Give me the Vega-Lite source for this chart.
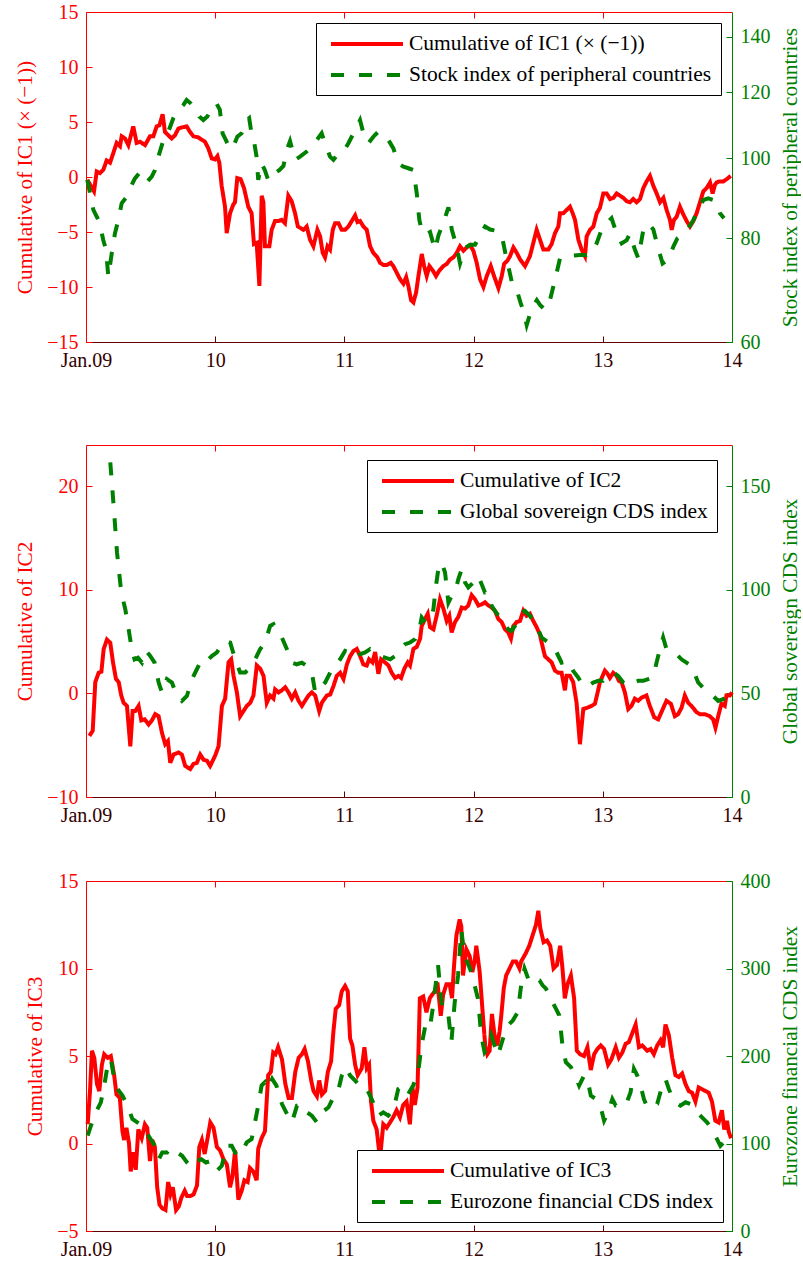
{
"$schema": "https://vega.github.io/schema/vega-lite/v6.json",
"padding": {"left": 14, "top": 2, "right": 0, "bottom": 0},
"config": {
  "font": "Liberation Serif",
  "view": {"stroke": null},
  "axis": {"grid": false, "labelFont": "Liberation Serif", "titleFont": "Liberation Serif", "labelFontSize": 20, "titleFontSize": 21.3, "titleFontWeight": "normal", "tickSize": -6, "labelPadding": 14, "titlePadding": 11, "domainWidth": 1, "tickWidth": 1, "labelFlush": false, "labelOverlap": false},
  "legend": {"title": null, "padding": 9, "strokeColor": "#000000", "fillColor": "#ffffff", "labelFont": "Liberation Serif", "labelFontSize": 21.5, "labelColor": "#000000", "symbolType": "M-3.6,0H3.6", "symbolSize": 400, "symbolStrokeWidth": 4, "rowPadding": 8, "labelOffset": 30, "labelLimit": 600, "symbolOffset": 30}
},
"datasets": {
"p1": [
{"s":"a","t":2009.010,"v":-0.25},{"s":"a","t":2009.062,"v":-1.3},{"s":"a","t":2009.083,"v":0.5},{"s":"a","t":2009.108,"v":0.35},{"s":"a","t":2009.134,"v":0.66},{"s":"a","t":2009.160,"v":1.5},{"s":"a","t":2009.186,"v":1.3},{"s":"a","t":2009.212,"v":2.2},{"s":"a","t":2009.237,"v":3.1},{"s":"a","t":2009.263,"v":2.8},{"s":"a","t":2009.276,"v":3.7},{"s":"a","t":2009.302,"v":3.5},{"s":"a","t":2009.328,"v":2.9},{"s":"a","t":2009.366,"v":4.6},{"s":"a","t":2009.392,"v":3.1},{"s":"a","t":2009.418,"v":3.2},{"s":"a","t":2009.457,"v":2.9},{"s":"a","t":2009.495,"v":3.7},{"s":"a","t":2009.521,"v":3.7},{"s":"a","t":2009.547,"v":4.6},{"s":"a","t":2009.568,"v":4.7},{"s":"a","t":2009.593,"v":5.7},{"s":"a","t":2009.611,"v":4.1},{"s":"a","t":2009.637,"v":3.8},{"s":"a","t":2009.663,"v":3.5},{"s":"a","t":2009.689,"v":3.8},{"s":"a","t":2009.715,"v":4.4},{"s":"a","t":2009.740,"v":4.5},{"s":"a","t":2009.779,"v":4.6},{"s":"a","t":2009.805,"v":4.1},{"s":"a","t":2009.831,"v":3.7},{"s":"a","t":2009.869,"v":3.6},{"s":"a","t":2009.895,"v":3.4},{"s":"a","t":2009.921,"v":3.2},{"s":"a","t":2009.947,"v":2.6},{"s":"a","t":2009.973,"v":1.7},{"s":"a","t":2009.998,"v":1.6},{"s":"a","t":2010.017,"v":1.9},{"s":"a","t":2010.032,"v":1.3},{"s":"a","t":2010.050,"v":-0.8},{"s":"a","t":2010.076,"v":-2.7},{"s":"a","t":2010.089,"v":-5.1},{"s":"a","t":2010.115,"v":-3.3},{"s":"a","t":2010.140,"v":-2.5},{"s":"a","t":2010.153,"v":-2.3},{"s":"a","t":2010.171,"v":-0.1},{"s":"a","t":2010.197,"v":-0.2},{"s":"a","t":2010.223,"v":-1.0},{"s":"a","t":2010.256,"v":-2.7},{"s":"a","t":2010.282,"v":-3.3},{"s":"a","t":2010.300,"v":-6.1},{"s":"a","t":2010.321,"v":-6.0},{"s":"a","t":2010.342,"v":-9.9},{"s":"a","t":2010.360,"v":-1.7},{"s":"a","t":2010.373,"v":-2.3},{"s":"a","t":2010.385,"v":-6.3},{"s":"a","t":2010.419,"v":-6.3},{"s":"a","t":2010.437,"v":-4.8},{"s":"a","t":2010.463,"v":-4.0},{"s":"a","t":2010.489,"v":-4.0},{"s":"a","t":2010.514,"v":-3.9},{"s":"a","t":2010.540,"v":-4.2},{"s":"a","t":2010.566,"v":-1.7},{"s":"a","t":2010.592,"v":-2.2},{"s":"a","t":2010.618,"v":-3.3},{"s":"a","t":2010.640,"v":-4.5},{"s":"a","t":2010.683,"v":-4.8},{"s":"a","t":2010.708,"v":-4.5},{"s":"a","t":2010.734,"v":-5.7},{"s":"a","t":2010.760,"v":-6.3},{"s":"a","t":2010.791,"v":-4.8},{"s":"a","t":2010.812,"v":-5.4},{"s":"a","t":2010.832,"v":-6.9},{"s":"a","t":2010.850,"v":-7.3},{"s":"a","t":2010.869,"v":-6.3},{"s":"a","t":2010.889,"v":-6.6},{"s":"a","t":2010.910,"v":-4.8},{"s":"a","t":2010.928,"v":-4.2},{"s":"a","t":2010.954,"v":-4.2},{"s":"a","t":2010.979,"v":-4.8},{"s":"a","t":2011.005,"v":-4.8},{"s":"a","t":2011.031,"v":-4.5},{"s":"a","t":2011.057,"v":-4.0},{"s":"a","t":2011.083,"v":-3.5},{"s":"a","t":2011.101,"v":-4.1},{"s":"a","t":2011.121,"v":-4.0},{"s":"a","t":2011.147,"v":-4.5},{"s":"a","t":2011.173,"v":-4.8},{"s":"a","t":2011.199,"v":-6.3},{"s":"a","t":2011.224,"v":-6.9},{"s":"a","t":2011.255,"v":-7.3},{"s":"a","t":2011.276,"v":-7.8},{"s":"a","t":2011.302,"v":-8.0},{"s":"a","t":2011.328,"v":-8.0},{"s":"a","t":2011.359,"v":-7.8},{"s":"a","t":2011.379,"v":-8.1},{"s":"a","t":2011.405,"v":-8.7},{"s":"a","t":2011.431,"v":-9.3},{"s":"a","t":2011.457,"v":-9.7},{"s":"a","t":2011.478,"v":-9.1},{"s":"a","t":2011.495,"v":-9.9},{"s":"a","t":2011.516,"v":-11.2},{"s":"a","t":2011.534,"v":-11.4},{"s":"a","t":2011.555,"v":-10.5},{"s":"a","t":2011.573,"v":-9.0},{"s":"a","t":2011.599,"v":-7.0},{"s":"a","t":2011.617,"v":-8.1},{"s":"a","t":2011.637,"v":-9.0},{"s":"a","t":2011.658,"v":-8.1},{"s":"a","t":2011.684,"v":-8.5},{"s":"a","t":2011.709,"v":-9.0},{"s":"a","t":2011.735,"v":-8.5},{"s":"a","t":2011.766,"v":-8.1},{"s":"a","t":2011.792,"v":-7.9},{"s":"a","t":2011.818,"v":-7.5},{"s":"a","t":2011.844,"v":-7.3},{"s":"a","t":2011.869,"v":-6.9},{"s":"a","t":2011.895,"v":-6.3},{"s":"a","t":2011.921,"v":-6.7},{"s":"a","t":2011.947,"v":-6.4},{"s":"a","t":2011.973,"v":-6.2},{"s":"a","t":2011.998,"v":-6.7},{"s":"a","t":2012.024,"v":-7.8},{"s":"a","t":2012.050,"v":-9.3},{"s":"a","t":2012.076,"v":-10.0},{"s":"a","t":2012.102,"v":-9.0},{"s":"a","t":2012.133,"v":-8.1},{"s":"a","t":2012.158,"v":-9.0},{"s":"a","t":2012.192,"v":-10.1},{"s":"a","t":2012.218,"v":-9.0},{"s":"a","t":2012.236,"v":-7.9},{"s":"a","t":2012.262,"v":-7.6},{"s":"a","t":2012.282,"v":-7.2},{"s":"a","t":2012.308,"v":-6.4},{"s":"a","t":2012.334,"v":-6.9},{"s":"a","t":2012.360,"v":-7.5},{"s":"a","t":2012.398,"v":-8.1},{"s":"a","t":2012.436,"v":-7.2},{"s":"a","t":2012.462,"v":-6.0},{"s":"a","t":2012.488,"v":-4.8},{"s":"a","t":2012.514,"v":-5.7},{"s":"a","t":2012.540,"v":-6.6},{"s":"a","t":2012.578,"v":-6.6},{"s":"a","t":2012.604,"v":-6.1},{"s":"a","t":2012.630,"v":-5.1},{"s":"a","t":2012.656,"v":-4.5},{"s":"a","t":2012.669,"v":-3.3},{"s":"a","t":2012.694,"v":-3.3},{"s":"a","t":2012.720,"v":-3.0},{"s":"a","t":2012.746,"v":-2.7},{"s":"a","t":2012.767,"v":-3.3},{"s":"a","t":2012.785,"v":-3.9},{"s":"a","t":2012.811,"v":-5.7},{"s":"a","t":2012.836,"v":-6.6},{"s":"a","t":2012.862,"v":-7.2},{"s":"a","t":2012.875,"v":-5.4},{"s":"a","t":2012.901,"v":-4.8},{"s":"a","t":2012.927,"v":-4.5},{"s":"a","t":2012.953,"v":-3.3},{"s":"a","t":2012.978,"v":-2.8},{"s":"a","t":2013.004,"v":-1.5},{"s":"a","t":2013.030,"v":-1.5},{"s":"a","t":2013.056,"v":-2.0},{"s":"a","t":2013.082,"v":-1.9},{"s":"a","t":2013.107,"v":-1.5},{"s":"a","t":2013.133,"v":-1.7},{"s":"a","t":2013.159,"v":-1.9},{"s":"a","t":2013.185,"v":-2.2},{"s":"a","t":2013.210,"v":-2.3},{"s":"a","t":2013.236,"v":-2.0},{"s":"a","t":2013.262,"v":-2.3},{"s":"a","t":2013.288,"v":-2.0},{"s":"a","t":2013.314,"v":-1.0},{"s":"a","t":2013.339,"v":-0.4},{"s":"a","t":2013.365,"v":0.1},{"s":"a","t":2013.391,"v":-0.8},{"s":"a","t":2013.417,"v":-1.5},{"s":"a","t":2013.443,"v":-2.3},{"s":"a","t":2013.469,"v":-1.9},{"s":"a","t":2013.494,"v":-3.0},{"s":"a","t":2013.520,"v":-3.9},{"s":"a","t":2013.533,"v":-4.8},{"s":"a","t":2013.551,"v":-3.9},{"s":"a","t":2013.572,"v":-3.6},{"s":"a","t":2013.597,"v":-2.7},{"s":"a","t":2013.623,"v":-3.4},{"s":"a","t":2013.649,"v":-4.0},{"s":"a","t":2013.675,"v":-4.5},{"s":"a","t":2013.701,"v":-4.0},{"s":"a","t":2013.726,"v":-3.3},{"s":"a","t":2013.752,"v":-2.3},{"s":"a","t":2013.778,"v":-1.3},{"s":"a","t":2013.804,"v":-1.0},{"s":"a","t":2013.830,"v":-0.5},{"s":"a","t":2013.850,"v":-1.5},{"s":"a","t":2013.868,"v":-0.7},{"s":"a","t":2013.881,"v":-0.5},{"s":"a","t":2013.902,"v":-0.4},{"s":"a","t":2013.933,"v":-0.4},{"s":"a","t":2013.959,"v":-0.2},{"s":"a","t":2013.990,"v":0.1},
{"s":"b","t":2009.010,"v":94.1},{"s":"b","t":2009.026,"v":91.5},{"s":"b","t":2009.057,"v":86.6},{"s":"b","t":2009.083,"v":85.0},{"s":"b","t":2009.103,"v":83.8},{"s":"b","t":2009.134,"v":79.6},{"s":"b","t":2009.155,"v":77.5},{"s":"b","t":2009.173,"v":71.9},{"s":"b","t":2009.199,"v":76.7},{"s":"b","t":2009.224,"v":81.1},{"s":"b","t":2009.250,"v":84.2},{"s":"b","t":2009.276,"v":88.2},{"s":"b","t":2009.315,"v":89.8},{"s":"b","t":2009.346,"v":92.3},{"s":"b","t":2009.379,"v":94.5},{"s":"b","t":2009.413,"v":95.9},{"s":"b","t":2009.444,"v":93.7},{"s":"b","t":2009.475,"v":93.7},{"s":"b","t":2009.509,"v":95.0},{"s":"b","t":2009.534,"v":96.7},{"s":"b","t":2009.568,"v":101.3},{"s":"b","t":2009.599,"v":105.1},{"s":"b","t":2009.637,"v":107.6},{"s":"b","t":2009.676,"v":111.7},{"s":"b","t":2009.715,"v":114.3},{"s":"b","t":2009.754,"v":115.9},{"s":"b","t":2009.779,"v":117.5},{"s":"b","t":2009.810,"v":116.4},{"s":"b","t":2009.844,"v":114.8},{"s":"b","t":2009.877,"v":112.2},{"s":"b","t":2009.908,"v":111.1},{"s":"b","t":2009.939,"v":112.2},{"s":"b","t":2009.972,"v":114.8},{"s":"b","t":2010.010,"v":116.4},{"s":"b","t":2010.036,"v":114.3},{"s":"b","t":2010.057,"v":107.1},{"s":"b","t":2010.083,"v":105.1},{"s":"b","t":2010.114,"v":102.5},{"s":"b","t":2010.140,"v":103.2},{"s":"b","t":2010.171,"v":106.1},{"s":"b","t":2010.204,"v":107.1},{"s":"b","t":2010.243,"v":111.1},{"s":"b","t":2010.263,"v":111.7},{"s":"b","t":2010.281,"v":107.1},{"s":"b","t":2010.299,"v":105.1},{"s":"b","t":2010.320,"v":100.4},{"s":"b","t":2010.333,"v":94.1},{"s":"b","t":2010.359,"v":98.5},{"s":"b","t":2010.384,"v":96.7},{"s":"b","t":2010.410,"v":94.1},{"s":"b","t":2010.436,"v":94.1},{"s":"b","t":2010.462,"v":95.9},{"s":"b","t":2010.496,"v":96.7},{"s":"b","t":2010.528,"v":97.8},{"s":"b","t":2010.554,"v":102.3},{"s":"b","t":2010.579,"v":104.8},{"s":"b","t":2010.618,"v":99.5},{"s":"b","t":2010.657,"v":100.4},{"s":"b","t":2010.708,"v":101.8},{"s":"b","t":2010.747,"v":103.2},{"s":"b","t":2010.786,"v":105.1},{"s":"b","t":2010.824,"v":107.1},{"s":"b","t":2010.850,"v":104.2},{"s":"b","t":2010.889,"v":100.4},{"s":"b","t":2010.915,"v":99.5},{"s":"b","t":2010.953,"v":101.3},{"s":"b","t":2010.992,"v":101.8},{"s":"b","t":2011.031,"v":104.2},{"s":"b","t":2011.070,"v":107.1},{"s":"b","t":2011.121,"v":111.1},{"s":"b","t":2011.147,"v":107.1},{"s":"b","t":2011.186,"v":104.2},{"s":"b","t":2011.224,"v":106.1},{"s":"b","t":2011.263,"v":107.6},{"s":"b","t":2011.302,"v":106.1},{"s":"b","t":2011.341,"v":105.1},{"s":"b","t":2011.379,"v":102.7},{"s":"b","t":2011.418,"v":98.5},{"s":"b","t":2011.457,"v":97.6},{"s":"b","t":2011.495,"v":97.2},{"s":"b","t":2011.534,"v":96.7},{"s":"b","t":2011.560,"v":90.7},{"s":"b","t":2011.580,"v":84.2},{"s":"b","t":2011.598,"v":81.9},{"s":"b","t":2011.624,"v":80.7},{"s":"b","t":2011.663,"v":81.4},{"s":"b","t":2011.702,"v":77.5},{"s":"b","t":2011.728,"v":80.7},{"s":"b","t":2011.766,"v":83.5},{"s":"b","t":2011.805,"v":87.2},{"s":"b","t":2011.831,"v":82.0},{"s":"b","t":2011.869,"v":78.2},{"s":"b","t":2011.895,"v":74.6},{"s":"b","t":2011.934,"v":77.9},{"s":"b","t":2011.973,"v":78.6},{"s":"b","t":2012.011,"v":78.6},{"s":"b","t":2012.050,"v":80.7},{"s":"b","t":2012.089,"v":82.7},{"s":"b","t":2012.127,"v":82.0},{"s":"b","t":2012.179,"v":81.7},{"s":"b","t":2012.218,"v":80.7},{"s":"b","t":2012.251,"v":76.1},{"s":"b","t":2012.295,"v":71.0},{"s":"b","t":2012.334,"v":69.3},{"s":"b","t":2012.365,"v":66.8},{"s":"b","t":2012.391,"v":65.0},{"s":"b","t":2012.411,"v":62.9},{"s":"b","t":2012.450,"v":65.9},{"s":"b","t":2012.489,"v":67.4},{"s":"b","t":2012.514,"v":66.5},{"s":"b","t":2012.553,"v":65.6},{"s":"b","t":2012.591,"v":67.4},{"s":"b","t":2012.630,"v":71.3},{"s":"b","t":2012.669,"v":75.7},{"s":"b","t":2012.720,"v":75.7},{"s":"b","t":2012.772,"v":76.3},{"s":"b","t":2012.823,"v":76.4},{"s":"b","t":2012.875,"v":76.4},{"s":"b","t":2012.914,"v":76.7},{"s":"b","t":2012.952,"v":78.9},{"s":"b","t":2012.991,"v":82.0},{"s":"b","t":2013.030,"v":83.4},{"s":"b","t":2013.068,"v":84.6},{"s":"b","t":2013.107,"v":81.1},{"s":"b","t":2013.146,"v":78.9},{"s":"b","t":2013.185,"v":79.6},{"s":"b","t":2013.210,"v":81.1},{"s":"b","t":2013.249,"v":77.5},{"s":"b","t":2013.275,"v":75.7},{"s":"b","t":2013.314,"v":82.0},{"s":"b","t":2013.352,"v":83.4},{"s":"b","t":2013.391,"v":82.0},{"s":"b","t":2013.422,"v":78.5},{"s":"b","t":2013.463,"v":74.6},{"s":"b","t":2013.507,"v":75.4},{"s":"b","t":2013.546,"v":78.2},{"s":"b","t":2013.577,"v":80.0},{"s":"b","t":2013.623,"v":81.1},{"s":"b","t":2013.662,"v":82.3},{"s":"b","t":2013.701,"v":84.2},{"s":"b","t":2013.739,"v":86.6},{"s":"b","t":2013.778,"v":89.0},{"s":"b","t":2013.817,"v":89.4},{"s":"b","t":2013.855,"v":89.0},{"s":"b","t":2013.881,"v":88.2},{"s":"b","t":2013.907,"v":85.8},{"s":"b","t":2013.938,"v":84.6}
],
"p2": [
{"s":"a","t":2009.026,"v":-4.1},{"s":"a","t":2009.052,"v":-3.6},{"s":"a","t":2009.072,"v":1.1},{"s":"a","t":2009.098,"v":2.0},{"s":"a","t":2009.119,"v":2.1},{"s":"a","t":2009.137,"v":4.3},{"s":"a","t":2009.162,"v":5.2},{"s":"a","t":2009.188,"v":4.9},{"s":"a","t":2009.209,"v":3.0},{"s":"a","t":2009.232,"v":1.4},{"s":"a","t":2009.253,"v":1.1},{"s":"a","t":2009.273,"v":-0.2},{"s":"a","t":2009.291,"v":-0.9},{"s":"a","t":2009.317,"v":-1.2},{"s":"a","t":2009.343,"v":-5.1},{"s":"a","t":2009.361,"v":-1.7},{"s":"a","t":2009.381,"v":-1.7},{"s":"a","t":2009.407,"v":-1.2},{"s":"a","t":2009.428,"v":-2.6},{"s":"a","t":2009.454,"v":-2.5},{"s":"a","t":2009.485,"v":-3.0},{"s":"a","t":2009.510,"v":-2.6},{"s":"a","t":2009.536,"v":-2.0},{"s":"a","t":2009.562,"v":-2.2},{"s":"a","t":2009.588,"v":-3.8},{"s":"a","t":2009.613,"v":-4.9},{"s":"a","t":2009.634,"v":-4.6},{"s":"a","t":2009.652,"v":-6.7},{"s":"a","t":2009.678,"v":-5.9},{"s":"a","t":2009.716,"v":-5.7},{"s":"a","t":2009.742,"v":-5.9},{"s":"a","t":2009.768,"v":-7.0},{"s":"a","t":2009.807,"v":-7.3},{"s":"a","t":2009.832,"v":-6.8},{"s":"a","t":2009.858,"v":-6.7},{"s":"a","t":2009.884,"v":-5.9},{"s":"a","t":2009.910,"v":-6.4},{"s":"a","t":2009.936,"v":-6.5},{"s":"a","t":2009.961,"v":-7.0},{"s":"a","t":2010.000,"v":-6.0},{"s":"a","t":2010.026,"v":-5.1},{"s":"a","t":2010.052,"v":-1.2},{"s":"a","t":2010.077,"v":-0.5},{"s":"a","t":2010.103,"v":3.0},{"s":"a","t":2010.124,"v":3.3},{"s":"a","t":2010.142,"v":1.7},{"s":"a","t":2010.168,"v":0.1},{"s":"a","t":2010.193,"v":-2.2},{"s":"a","t":2010.219,"v":-1.7},{"s":"a","t":2010.245,"v":-1.2},{"s":"a","t":2010.271,"v":-0.9},{"s":"a","t":2010.296,"v":-0.2},{"s":"a","t":2010.322,"v":2.7},{"s":"a","t":2010.348,"v":2.4},{"s":"a","t":2010.374,"v":1.7},{"s":"a","t":2010.399,"v":-0.9},{"s":"a","t":2010.425,"v":-0.2},{"s":"a","t":2010.451,"v":-0.5},{"s":"a","t":2010.464,"v":0.4},{"s":"a","t":2010.490,"v":0.1},{"s":"a","t":2010.515,"v":0.3},{"s":"a","t":2010.542,"v":0.6},{"s":"a","t":2010.568,"v":0.1},{"s":"a","t":2010.593,"v":-0.5},{"s":"a","t":2010.619,"v":0.1},{"s":"a","t":2010.645,"v":-0.7},{"s":"a","t":2010.671,"v":-1.2},{"s":"a","t":2010.696,"v":-0.7},{"s":"a","t":2010.722,"v":-0.2},{"s":"a","t":2010.748,"v":0.1},{"s":"a","t":2010.774,"v":-0.2},{"s":"a","t":2010.805,"v":-1.7},{"s":"a","t":2010.825,"v":-0.9},{"s":"a","t":2010.864,"v":-0.2},{"s":"a","t":2010.890,"v":-0.1},{"s":"a","t":2010.915,"v":0.7},{"s":"a","t":2010.941,"v":1.7},{"s":"a","t":2010.967,"v":2.0},{"s":"a","t":2010.993,"v":1.4},{"s":"a","t":2011.019,"v":2.8},{"s":"a","t":2011.044,"v":3.6},{"s":"a","t":2011.070,"v":4.1},{"s":"a","t":2011.096,"v":4.3},{"s":"a","t":2011.122,"v":3.6},{"s":"a","t":2011.147,"v":2.8},{"s":"a","t":2011.173,"v":2.7},{"s":"a","t":2011.191,"v":3.3},{"s":"a","t":2011.217,"v":3.0},{"s":"a","t":2011.238,"v":4.0},{"s":"a","t":2011.263,"v":1.9},{"s":"a","t":2011.284,"v":3.3},{"s":"a","t":2011.315,"v":3.0},{"s":"a","t":2011.341,"v":2.7},{"s":"a","t":2011.366,"v":2.0},{"s":"a","t":2011.392,"v":1.5},{"s":"a","t":2011.418,"v":1.7},{"s":"a","t":2011.439,"v":1.5},{"s":"a","t":2011.464,"v":2.4},{"s":"a","t":2011.490,"v":3.0},{"s":"a","t":2011.508,"v":2.7},{"s":"a","t":2011.534,"v":4.3},{"s":"a","t":2011.560,"v":4.5},{"s":"a","t":2011.586,"v":5.3},{"s":"a","t":2011.598,"v":6.5},{"s":"a","t":2011.624,"v":7.2},{"s":"a","t":2011.645,"v":7.7},{"s":"a","t":2011.663,"v":6.4},{"s":"a","t":2011.689,"v":6.2},{"s":"a","t":2011.714,"v":7.5},{"s":"a","t":2011.740,"v":9.1},{"s":"a","t":2011.766,"v":8.2},{"s":"a","t":2011.792,"v":7.0},{"s":"a","t":2011.812,"v":7.5},{"s":"a","t":2011.830,"v":5.9},{"s":"a","t":2011.856,"v":6.9},{"s":"a","t":2011.882,"v":7.4},{"s":"a","t":2011.908,"v":8.3},{"s":"a","t":2011.933,"v":8.2},{"s":"a","t":2011.959,"v":8.5},{"s":"a","t":2011.985,"v":9.5},{"s":"a","t":2012.011,"v":9.1},{"s":"a","t":2012.037,"v":8.5},{"s":"a","t":2012.062,"v":8.6},{"s":"a","t":2012.088,"v":8.8},{"s":"a","t":2012.114,"v":8.5},{"s":"a","t":2012.140,"v":8.3},{"s":"a","t":2012.165,"v":8.0},{"s":"a","t":2012.191,"v":7.2},{"s":"a","t":2012.217,"v":6.9},{"s":"a","t":2012.243,"v":6.2},{"s":"a","t":2012.268,"v":5.9},{"s":"a","t":2012.289,"v":5.3},{"s":"a","t":2012.307,"v":6.5},{"s":"a","t":2012.333,"v":6.9},{"s":"a","t":2012.359,"v":7.0},{"s":"a","t":2012.385,"v":8.0},{"s":"a","t":2012.410,"v":7.5},{"s":"a","t":2012.436,"v":7.7},{"s":"a","t":2012.462,"v":7.0},{"s":"a","t":2012.488,"v":6.4},{"s":"a","t":2012.513,"v":5.7},{"s":"a","t":2012.527,"v":4.9},{"s":"a","t":2012.552,"v":3.6},{"s":"a","t":2012.578,"v":3.3},{"s":"a","t":2012.604,"v":3.0},{"s":"a","t":2012.630,"v":2.2},{"s":"a","t":2012.655,"v":2.0},{"s":"a","t":2012.681,"v":2.0},{"s":"a","t":2012.707,"v":0.3},{"s":"a","t":2012.720,"v":1.7},{"s":"a","t":2012.746,"v":1.7},{"s":"a","t":2012.771,"v":1.1},{"s":"a","t":2012.797,"v":-0.9},{"s":"a","t":2012.823,"v":-4.9},{"s":"a","t":2012.849,"v":-1.5},{"s":"a","t":2012.875,"v":-1.4},{"s":"a","t":2012.913,"v":-1.2},{"s":"a","t":2012.939,"v":-1.0},{"s":"a","t":2012.960,"v":0.1},{"s":"a","t":2012.978,"v":1.1},{"s":"a","t":2013.016,"v":2.2},{"s":"a","t":2013.037,"v":1.9},{"s":"a","t":2013.055,"v":1.5},{"s":"a","t":2013.081,"v":2.0},{"s":"a","t":2013.107,"v":1.7},{"s":"a","t":2013.125,"v":1.2},{"s":"a","t":2013.145,"v":1.1},{"s":"a","t":2013.171,"v":0.1},{"s":"a","t":2013.197,"v":-1.5},{"s":"a","t":2013.222,"v":-1.2},{"s":"a","t":2013.248,"v":-0.5},{"s":"a","t":2013.274,"v":-0.7},{"s":"a","t":2013.300,"v":-0.4},{"s":"a","t":2013.338,"v":-0.2},{"s":"a","t":2013.364,"v":-1.2},{"s":"a","t":2013.398,"v":-2.3},{"s":"a","t":2013.429,"v":-2.5},{"s":"a","t":2013.454,"v":-1.8},{"s":"a","t":2013.493,"v":-0.7},{"s":"a","t":2013.527,"v":-1.0},{"s":"a","t":2013.558,"v":-2.2},{"s":"a","t":2013.583,"v":-2.0},{"s":"a","t":2013.609,"v":-1.4},{"s":"a","t":2013.635,"v":-0.2},{"s":"a","t":2013.661,"v":-0.9},{"s":"a","t":2013.686,"v":-1.2},{"s":"a","t":2013.725,"v":-1.8},{"s":"a","t":2013.751,"v":-2.0},{"s":"a","t":2013.790,"v":-2.0},{"s":"a","t":2013.828,"v":-2.2},{"s":"a","t":2013.854,"v":-2.5},{"s":"a","t":2013.872,"v":-3.3},{"s":"a","t":2013.893,"v":-2.2},{"s":"a","t":2013.918,"v":-1.0},{"s":"a","t":2013.944,"v":-1.2},{"s":"a","t":2013.957,"v":-0.2},{"s":"a","t":2013.983,"v":-0.2},{"s":"a","t":2014.000,"v":0.1},
{"s":"b","t":2009.188,"v":161.6},{"s":"b","t":2009.214,"v":140.6},{"s":"b","t":2009.240,"v":118.1},{"s":"b","t":2009.273,"v":98.8},{"s":"b","t":2009.304,"v":90.7},{"s":"b","t":2009.330,"v":81.0},{"s":"b","t":2009.356,"v":70.6},{"s":"b","t":2009.376,"v":66.5},{"s":"b","t":2009.402,"v":67.3},{"s":"b","t":2009.433,"v":64.9},{"s":"b","t":2009.464,"v":70.6},{"s":"b","t":2009.497,"v":68.1},{"s":"b","t":2009.531,"v":64.9},{"s":"b","t":2009.562,"v":55.3},{"s":"b","t":2009.588,"v":50.4},{"s":"b","t":2009.626,"v":56.9},{"s":"b","t":2009.665,"v":55.3},{"s":"b","t":2009.704,"v":48.8},{"s":"b","t":2009.742,"v":46.4},{"s":"b","t":2009.781,"v":48.8},{"s":"b","t":2009.820,"v":56.9},{"s":"b","t":2009.858,"v":61.7},{"s":"b","t":2009.897,"v":66.5},{"s":"b","t":2009.936,"v":65.7},{"s":"b","t":2009.974,"v":68.1},{"s":"b","t":2010.013,"v":69.8},{"s":"b","t":2010.052,"v":73.8},{"s":"b","t":2010.082,"v":75.4},{"s":"b","t":2010.116,"v":74.6},{"s":"b","t":2010.155,"v":66.5},{"s":"b","t":2010.193,"v":60.1},{"s":"b","t":2010.232,"v":60.1},{"s":"b","t":2010.271,"v":62.5},{"s":"b","t":2010.309,"v":66.5},{"s":"b","t":2010.348,"v":71.4},{"s":"b","t":2010.387,"v":74.6},{"s":"b","t":2010.425,"v":82.6},{"s":"b","t":2010.451,"v":83.5},{"s":"b","t":2010.490,"v":79.4},{"s":"b","t":2010.516,"v":77.0},{"s":"b","t":2010.555,"v":71.4},{"s":"b","t":2010.593,"v":64.9},{"s":"b","t":2010.632,"v":64.1},{"s":"b","t":2010.671,"v":64.9},{"s":"b","t":2010.709,"v":63.3},{"s":"b","t":2010.748,"v":60.1},{"s":"b","t":2010.774,"v":50.4},{"s":"b","t":2010.799,"v":52.0},{"s":"b","t":2010.851,"v":55.3},{"s":"b","t":2010.890,"v":60.1},{"s":"b","t":2010.928,"v":63.3},{"s":"b","t":2010.967,"v":66.5},{"s":"b","t":2011.006,"v":70.6},{"s":"b","t":2011.044,"v":69.8},{"s":"b","t":2011.083,"v":71.4},{"s":"b","t":2011.122,"v":69.0},{"s":"b","t":2011.160,"v":69.8},{"s":"b","t":2011.199,"v":71.4},{"s":"b","t":2011.238,"v":69.8},{"s":"b","t":2011.276,"v":68.1},{"s":"b","t":2011.315,"v":67.3},{"s":"b","t":2011.354,"v":66.5},{"s":"b","t":2011.392,"v":68.1},{"s":"b","t":2011.431,"v":71.4},{"s":"b","t":2011.470,"v":73.8},{"s":"b","t":2011.508,"v":74.6},{"s":"b","t":2011.547,"v":76.2},{"s":"b","t":2011.578,"v":80.2},{"s":"b","t":2011.598,"v":86.7},{"s":"b","t":2011.629,"v":84.3},{"s":"b","t":2011.663,"v":85.1},{"s":"b","t":2011.689,"v":90.7},{"s":"b","t":2011.707,"v":101.2},{"s":"b","t":2011.727,"v":110.0},{"s":"b","t":2011.753,"v":113.3},{"s":"b","t":2011.779,"v":108.4},{"s":"b","t":2011.805,"v":93.9},{"s":"b","t":2011.830,"v":97.1},{"s":"b","t":2011.856,"v":98.8},{"s":"b","t":2011.882,"v":105.2},{"s":"b","t":2011.908,"v":110.0},{"s":"b","t":2011.934,"v":103.6},{"s":"b","t":2011.959,"v":101.2},{"s":"b","t":2011.998,"v":103.6},{"s":"b","t":2012.037,"v":106.8},{"s":"b","t":2012.062,"v":102.8},{"s":"b","t":2012.088,"v":98.8},{"s":"b","t":2012.114,"v":98.8},{"s":"b","t":2012.140,"v":92.3},{"s":"b","t":2012.165,"v":89.9},{"s":"b","t":2012.204,"v":86.7},{"s":"b","t":2012.230,"v":84.3},{"s":"b","t":2012.268,"v":81.0},{"s":"b","t":2012.294,"v":80.2},{"s":"b","t":2012.320,"v":82.6},{"s":"b","t":2012.346,"v":85.9},{"s":"b","t":2012.372,"v":89.1},{"s":"b","t":2012.397,"v":89.9},{"s":"b","t":2012.436,"v":87.5},{"s":"b","t":2012.488,"v":82.5},{"s":"b","t":2012.527,"v":77.0},{"s":"b","t":2012.578,"v":74.6},{"s":"b","t":2012.630,"v":71.4},{"s":"b","t":2012.681,"v":64.9},{"s":"b","t":2012.733,"v":65.7},{"s":"b","t":2012.771,"v":60.9},{"s":"b","t":2012.810,"v":57.7},{"s":"b","t":2012.849,"v":53.6},{"s":"b","t":2012.887,"v":53.6},{"s":"b","t":2012.926,"v":55.3},{"s":"b","t":2012.965,"v":56.1},{"s":"b","t":2013.003,"v":56.1},{"s":"b","t":2013.042,"v":58.5},{"s":"b","t":2013.081,"v":60.1},{"s":"b","t":2013.119,"v":58.5},{"s":"b","t":2013.158,"v":55.3},{"s":"b","t":2013.197,"v":53.6},{"s":"b","t":2013.235,"v":55.3},{"s":"b","t":2013.274,"v":56.1},{"s":"b","t":2013.313,"v":56.1},{"s":"b","t":2013.351,"v":56.9},{"s":"b","t":2013.390,"v":57.7},{"s":"b","t":2013.416,"v":64.9},{"s":"b","t":2013.442,"v":71.4},{"s":"b","t":2013.467,"v":77.0},{"s":"b","t":2013.493,"v":71.4},{"s":"b","t":2013.532,"v":69.8},{"s":"b","t":2013.570,"v":69.0},{"s":"b","t":2013.609,"v":66.5},{"s":"b","t":2013.648,"v":64.9},{"s":"b","t":2013.686,"v":63.3},{"s":"b","t":2013.712,"v":59.3},{"s":"b","t":2013.738,"v":55.3},{"s":"b","t":2013.777,"v":52.8},{"s":"b","t":2013.815,"v":51.2},{"s":"b","t":2013.854,"v":48.8},{"s":"b","t":2013.893,"v":46.4},{"s":"b","t":2013.931,"v":47.2},{"s":"b","t":2013.970,"v":48.8},{"s":"b","t":2014.000,"v":49.6}
],
"p3": [
{"s":"a","t":2009.013,"v":1.1},{"s":"a","t":2009.031,"v":3.0},{"s":"a","t":2009.046,"v":5.3},{"s":"a","t":2009.064,"v":4.9},{"s":"a","t":2009.085,"v":3.4},{"s":"a","t":2009.103,"v":3.0},{"s":"a","t":2009.123,"v":4.5},{"s":"a","t":2009.141,"v":5.1},{"s":"a","t":2009.167,"v":4.9},{"s":"a","t":2009.192,"v":5.0},{"s":"a","t":2009.218,"v":3.9},{"s":"a","t":2009.236,"v":2.8},{"s":"a","t":2009.262,"v":2.6},{"s":"a","t":2009.282,"v":0.7},{"s":"a","t":2009.295,"v":0.2},{"s":"a","t":2009.313,"v":0.9},{"s":"a","t":2009.333,"v":0.0},{"s":"a","t":2009.346,"v":-1.6},{"s":"a","t":2009.367,"v":-0.5},{"s":"a","t":2009.385,"v":-1.5},{"s":"a","t":2009.405,"v":0.8},{"s":"a","t":2009.431,"v":0.3},{"s":"a","t":2009.456,"v":1.1},{"s":"a","t":2009.474,"v":0.9},{"s":"a","t":2009.495,"v":-1.0},{"s":"a","t":2009.513,"v":0.2},{"s":"a","t":2009.533,"v":-0.2},{"s":"a","t":2009.551,"v":-2.5},{"s":"a","t":2009.569,"v":-3.5},{"s":"a","t":2009.590,"v":-3.7},{"s":"a","t":2009.615,"v":-3.8},{"s":"a","t":2009.636,"v":-2.2},{"s":"a","t":2009.654,"v":-2.9},{"s":"a","t":2009.672,"v":-2.5},{"s":"a","t":2009.697,"v":-3.8},{"s":"a","t":2009.718,"v":-3.6},{"s":"a","t":2009.738,"v":-3.1},{"s":"a","t":2009.764,"v":-2.7},{"s":"a","t":2009.782,"v":-3.0},{"s":"a","t":2009.808,"v":-3.0},{"s":"a","t":2009.833,"v":-2.9},{"s":"a","t":2009.859,"v":-2.4},{"s":"a","t":2009.877,"v":-0.2},{"s":"a","t":2009.897,"v":0.2},{"s":"a","t":2009.918,"v":-0.6},{"s":"a","t":2009.936,"v":0.1},{"s":"a","t":2009.962,"v":1.2},{"s":"a","t":2009.987,"v":0.9},{"s":"a","t":2010.013,"v":-0.2},{"s":"a","t":2010.038,"v":-0.4},{"s":"a","t":2010.064,"v":-0.9},{"s":"a","t":2010.090,"v":-1.2},{"s":"a","t":2010.115,"v":-2.5},{"s":"a","t":2010.133,"v":-1.9},{"s":"a","t":2010.154,"v":-0.4},{"s":"a","t":2010.179,"v":-3.2},{"s":"a","t":2010.205,"v":-2.7},{"s":"a","t":2010.226,"v":-2.1},{"s":"a","t":2010.251,"v":-2.2},{"s":"a","t":2010.269,"v":-1.4},{"s":"a","t":2010.295,"v":-1.6},{"s":"a","t":2010.321,"v":-2.1},{"s":"a","t":2010.333,"v":-0.3},{"s":"a","t":2010.359,"v":0.3},{"s":"a","t":2010.385,"v":0.7},{"s":"a","t":2010.410,"v":3.9},{"s":"a","t":2010.431,"v":4.1},{"s":"a","t":2010.449,"v":5.2},{"s":"a","t":2010.467,"v":5.1},{"s":"a","t":2010.487,"v":5.5},{"s":"a","t":2010.517,"v":4.8},{"s":"a","t":2010.543,"v":3.4},{"s":"a","t":2010.568,"v":2.6},{"s":"a","t":2010.594,"v":2.6},{"s":"a","t":2010.620,"v":4.1},{"s":"a","t":2010.646,"v":4.9},{"s":"a","t":2010.671,"v":5.1},{"s":"a","t":2010.692,"v":5.4},{"s":"a","t":2010.718,"v":4.7},{"s":"a","t":2010.743,"v":3.6},{"s":"a","t":2010.761,"v":3.0},{"s":"a","t":2010.787,"v":2.7},{"s":"a","t":2010.805,"v":3.6},{"s":"a","t":2010.826,"v":2.8},{"s":"a","t":2010.851,"v":3.0},{"s":"a","t":2010.872,"v":4.1},{"s":"a","t":2010.897,"v":4.7},{"s":"a","t":2010.915,"v":6.4},{"s":"a","t":2010.933,"v":7.7},{"s":"a","t":2010.959,"v":7.9},{"s":"a","t":2010.980,"v":8.7},{"s":"a","t":2011.005,"v":9.0},{"s":"a","t":2011.026,"v":8.7},{"s":"a","t":2011.044,"v":6.0},{"s":"a","t":2011.062,"v":5.6},{"s":"a","t":2011.083,"v":4.5},{"s":"a","t":2011.103,"v":3.9},{"s":"a","t":2011.134,"v":4.3},{"s":"a","t":2011.155,"v":5.5},{"s":"a","t":2011.173,"v":4.3},{"s":"a","t":2011.191,"v":4.5},{"s":"a","t":2011.206,"v":2.4},{"s":"a","t":2011.224,"v":1.3},{"s":"a","t":2011.250,"v":0.8},{"s":"a","t":2011.268,"v":-0.4},{"s":"a","t":2011.283,"v":-0.3},{"s":"a","t":2011.301,"v":1.1},{"s":"a","t":2011.327,"v":0.9},{"s":"a","t":2011.353,"v":1.2},{"s":"a","t":2011.378,"v":1.5},{"s":"a","t":2011.404,"v":1.9},{"s":"a","t":2011.430,"v":1.5},{"s":"a","t":2011.455,"v":2.2},{"s":"a","t":2011.481,"v":2.4},{"s":"a","t":2011.507,"v":1.1},{"s":"a","t":2011.527,"v":3.2},{"s":"a","t":2011.545,"v":2.2},{"s":"a","t":2011.566,"v":3.2},{"s":"a","t":2011.584,"v":8.3},{"s":"a","t":2011.610,"v":8.4},{"s":"a","t":2011.635,"v":7.5},{"s":"a","t":2011.661,"v":8.3},{"s":"a","t":2011.679,"v":8.5},{"s":"a","t":2011.700,"v":8.7},{"s":"a","t":2011.720,"v":9.2},{"s":"a","t":2011.746,"v":7.3},{"s":"a","t":2011.764,"v":8.5},{"s":"a","t":2011.790,"v":9.1},{"s":"a","t":2011.815,"v":9.1},{"s":"a","t":2011.833,"v":8.3},{"s":"a","t":2011.849,"v":10.2},{"s":"a","t":2011.867,"v":11.9},{"s":"a","t":2011.892,"v":12.8},{"s":"a","t":2011.905,"v":12.4},{"s":"a","t":2011.918,"v":9.6},{"s":"a","t":2011.944,"v":11.1},{"s":"a","t":2011.970,"v":10.7},{"s":"a","t":2011.990,"v":9.8},{"s":"a","t":2012.008,"v":10.4},{"s":"a","t":2012.021,"v":11.3},{"s":"a","t":2012.047,"v":9.8},{"s":"a","t":2012.072,"v":7.3},{"s":"a","t":2012.090,"v":5.6},{"s":"a","t":2012.106,"v":5.1},{"s":"a","t":2012.124,"v":5.3},{"s":"a","t":2012.142,"v":7.4},{"s":"a","t":2012.162,"v":6.2},{"s":"a","t":2012.183,"v":5.6},{"s":"a","t":2012.201,"v":6.4},{"s":"a","t":2012.214,"v":7.3},{"s":"a","t":2012.234,"v":8.9},{"s":"a","t":2012.252,"v":9.6},{"s":"a","t":2012.278,"v":10.0},{"s":"a","t":2012.304,"v":10.4},{"s":"a","t":2012.329,"v":10.4},{"s":"a","t":2012.355,"v":10.0},{"s":"a","t":2012.368,"v":10.4},{"s":"a","t":2012.406,"v":10.9},{"s":"a","t":2012.431,"v":11.3},{"s":"a","t":2012.457,"v":11.9},{"s":"a","t":2012.483,"v":12.5},{"s":"a","t":2012.501,"v":13.3},{"s":"a","t":2012.516,"v":12.3},{"s":"a","t":2012.542,"v":11.5},{"s":"a","t":2012.568,"v":11.6},{"s":"a","t":2012.593,"v":11.3},{"s":"a","t":2012.619,"v":10.0},{"s":"a","t":2012.645,"v":10.2},{"s":"a","t":2012.670,"v":11.3},{"s":"a","t":2012.688,"v":10.0},{"s":"a","t":2012.706,"v":8.3},{"s":"a","t":2012.727,"v":9.1},{"s":"a","t":2012.753,"v":9.6},{"s":"a","t":2012.778,"v":8.3},{"s":"a","t":2012.799,"v":5.3},{"s":"a","t":2012.825,"v":5.1},{"s":"a","t":2012.855,"v":5.0},{"s":"a","t":2012.881,"v":5.5},{"s":"a","t":2012.907,"v":4.2},{"s":"a","t":2012.933,"v":5.1},{"s":"a","t":2012.958,"v":5.4},{"s":"a","t":2012.984,"v":5.6},{"s":"a","t":2013.010,"v":5.4},{"s":"a","t":2013.041,"v":4.5},{"s":"a","t":2013.066,"v":4.8},{"s":"a","t":2013.100,"v":5.5},{"s":"a","t":2013.125,"v":4.9},{"s":"a","t":2013.151,"v":5.2},{"s":"a","t":2013.177,"v":5.7},{"s":"a","t":2013.202,"v":5.8},{"s":"a","t":2013.228,"v":6.3},{"s":"a","t":2013.254,"v":6.8},{"s":"a","t":2013.280,"v":5.5},{"s":"a","t":2013.305,"v":5.6},{"s":"a","t":2013.344,"v":5.3},{"s":"a","t":2013.370,"v":5.4},{"s":"a","t":2013.395,"v":5.1},{"s":"a","t":2013.421,"v":5.6},{"s":"a","t":2013.447,"v":5.9},{"s":"a","t":2013.467,"v":5.5},{"s":"a","t":2013.485,"v":6.8},{"s":"a","t":2013.511,"v":6.2},{"s":"a","t":2013.537,"v":4.9},{"s":"a","t":2013.562,"v":3.9},{"s":"a","t":2013.588,"v":3.8},{"s":"a","t":2013.614,"v":4.0},{"s":"a","t":2013.640,"v":3.4},{"s":"a","t":2013.665,"v":3.0},{"s":"a","t":2013.691,"v":2.9},{"s":"a","t":2013.717,"v":2.4},{"s":"a","t":2013.742,"v":3.2},{"s":"a","t":2013.768,"v":3.1},{"s":"a","t":2013.794,"v":3.0},{"s":"a","t":2013.820,"v":2.9},{"s":"a","t":2013.845,"v":2.4},{"s":"a","t":2013.871,"v":1.3},{"s":"a","t":2013.897,"v":1.2},{"s":"a","t":2013.922,"v":1.9},{"s":"a","t":2013.940,"v":0.8},{"s":"a","t":2013.961,"v":1.3},{"s":"a","t":2013.974,"v":0.7},{"s":"a","t":2013.992,"v":0.3},
{"s":"b","t":2009.013,"v":108.9},{"s":"b","t":2009.038,"v":120.3},{"s":"b","t":2009.077,"v":135.6},{"s":"b","t":2009.115,"v":147.1},{"s":"b","t":2009.141,"v":166.2},{"s":"b","t":2009.167,"v":189.1},{"s":"b","t":2009.192,"v":196.8},{"s":"b","t":2009.218,"v":173.8},{"s":"b","t":2009.244,"v":162.4},{"s":"b","t":2009.282,"v":154.7},{"s":"b","t":2009.321,"v":143.3},{"s":"b","t":2009.359,"v":128.0},{"s":"b","t":2009.397,"v":124.2},{"s":"b","t":2009.436,"v":120.3},{"s":"b","t":2009.467,"v":112.7},{"s":"b","t":2009.500,"v":105.1},{"s":"b","t":2009.533,"v":97.4},{"s":"b","t":2009.564,"v":82.1},{"s":"b","t":2009.590,"v":89.8},{"s":"b","t":2009.628,"v":89.8},{"s":"b","t":2009.667,"v":95.5},{"s":"b","t":2009.705,"v":89.8},{"s":"b","t":2009.744,"v":86.0},{"s":"b","t":2009.782,"v":78.3},{"s":"b","t":2009.821,"v":72.6},{"s":"b","t":2009.859,"v":80.2},{"s":"b","t":2009.892,"v":82.1},{"s":"b","t":2009.928,"v":78.3},{"s":"b","t":2009.969,"v":80.2},{"s":"b","t":2010.013,"v":68.8},{"s":"b","t":2010.051,"v":74.5},{"s":"b","t":2010.090,"v":97.4},{"s":"b","t":2010.128,"v":97.4},{"s":"b","t":2010.167,"v":86.0},{"s":"b","t":2010.205,"v":89.8},{"s":"b","t":2010.244,"v":101.2},{"s":"b","t":2010.282,"v":105.1},{"s":"b","t":2010.308,"v":124.2},{"s":"b","t":2010.333,"v":143.3},{"s":"b","t":2010.359,"v":166.2},{"s":"b","t":2010.385,"v":170.0},{"s":"b","t":2010.410,"v":162.4},{"s":"b","t":2010.441,"v":173.8},{"s":"b","t":2010.474,"v":166.2},{"s":"b","t":2010.517,"v":145.0},{"s":"b","t":2010.556,"v":133.7},{"s":"b","t":2010.594,"v":124.2},{"s":"b","t":2010.633,"v":143.3},{"s":"b","t":2010.671,"v":145.2},{"s":"b","t":2010.710,"v":135.6},{"s":"b","t":2010.748,"v":131.8},{"s":"b","t":2010.787,"v":124.2},{"s":"b","t":2010.826,"v":135.6},{"s":"b","t":2010.877,"v":141.4},{"s":"b","t":2010.915,"v":152.8},{"s":"b","t":2010.949,"v":158.5},{"s":"b","t":2010.980,"v":177.7},{"s":"b","t":2011.011,"v":187.2},{"s":"b","t":2011.044,"v":177.7},{"s":"b","t":2011.083,"v":171.9},{"s":"b","t":2011.134,"v":162.4},{"s":"b","t":2011.173,"v":162.4},{"s":"b","t":2011.211,"v":150.9},{"s":"b","t":2011.263,"v":131.8},{"s":"b","t":2011.301,"v":135.6},{"s":"b","t":2011.340,"v":131.8},{"s":"b","t":2011.378,"v":137.5},{"s":"b","t":2011.417,"v":162.4},{"s":"b","t":2011.455,"v":166.2},{"s":"b","t":2011.494,"v":156.6},{"s":"b","t":2011.532,"v":166.2},{"s":"b","t":2011.571,"v":181.5},{"s":"b","t":2011.597,"v":212.0},{"s":"b","t":2011.627,"v":235.0},{"s":"b","t":2011.661,"v":231.1},{"s":"b","t":2011.687,"v":257.9},{"s":"b","t":2011.712,"v":288.4},{"s":"b","t":2011.725,"v":303.7},{"s":"b","t":2011.751,"v":261.7},{"s":"b","t":2011.777,"v":250.2},{"s":"b","t":2011.802,"v":250.2},{"s":"b","t":2011.828,"v":215.9},{"s":"b","t":2011.854,"v":261.7},{"s":"b","t":2011.880,"v":292.3},{"s":"b","t":2011.905,"v":343.8},{"s":"b","t":2011.926,"v":319.0},{"s":"b","t":2011.951,"v":307.5},{"s":"b","t":2011.982,"v":296.1},{"s":"b","t":2012.008,"v":280.8},{"s":"b","t":2012.034,"v":265.5},{"s":"b","t":2012.059,"v":223.5},{"s":"b","t":2012.085,"v":204.4},{"s":"b","t":2012.111,"v":210.1},{"s":"b","t":2012.137,"v":223.5},{"s":"b","t":2012.162,"v":212.0},{"s":"b","t":2012.188,"v":200.6},{"s":"b","t":2012.227,"v":219.7},{"s":"b","t":2012.265,"v":235.0},{"s":"b","t":2012.304,"v":240.7},{"s":"b","t":2012.342,"v":250.2},{"s":"b","t":2012.368,"v":280.8},{"s":"b","t":2012.394,"v":299.9},{"s":"b","t":2012.432,"v":284.6},{"s":"b","t":2012.471,"v":288.4},{"s":"b","t":2012.510,"v":286.5},{"s":"b","t":2012.534,"v":280.8},{"s":"b","t":2012.560,"v":277.0},{"s":"b","t":2012.598,"v":265.5},{"s":"b","t":2012.637,"v":254.1},{"s":"b","t":2012.663,"v":246.4},{"s":"b","t":2012.688,"v":212.0},{"s":"b","t":2012.714,"v":192.9},{"s":"b","t":2012.753,"v":187.2},{"s":"b","t":2012.791,"v":175.7},{"s":"b","t":2012.817,"v":166.2},{"s":"b","t":2012.855,"v":177.7},{"s":"b","t":2012.881,"v":173.8},{"s":"b","t":2012.907,"v":154.7},{"s":"b","t":2012.945,"v":150.9},{"s":"b","t":2012.984,"v":141.4},{"s":"b","t":2013.010,"v":126.1},{"s":"b","t":2013.041,"v":135.6},{"s":"b","t":2013.074,"v":150.9},{"s":"b","t":2013.100,"v":143.3},{"s":"b","t":2013.138,"v":143.3},{"s":"b","t":2013.177,"v":143.3},{"s":"b","t":2013.215,"v":158.5},{"s":"b","t":2013.241,"v":185.3},{"s":"b","t":2013.267,"v":177.7},{"s":"b","t":2013.292,"v":166.2},{"s":"b","t":2013.318,"v":150.9},{"s":"b","t":2013.344,"v":141.4},{"s":"b","t":2013.382,"v":141.4},{"s":"b","t":2013.421,"v":145.2},{"s":"b","t":2013.460,"v":166.2},{"s":"b","t":2013.485,"v":173.8},{"s":"b","t":2013.511,"v":162.4},{"s":"b","t":2013.537,"v":152.8},{"s":"b","t":2013.562,"v":147.1},{"s":"b","t":2013.601,"v":143.3},{"s":"b","t":2013.640,"v":147.1},{"s":"b","t":2013.678,"v":145.2},{"s":"b","t":2013.704,"v":141.4},{"s":"b","t":2013.730,"v":135.6},{"s":"b","t":2013.768,"v":129.9},{"s":"b","t":2013.807,"v":124.2},{"s":"b","t":2013.845,"v":116.5},{"s":"b","t":2013.884,"v":105.1},{"s":"b","t":2013.910,"v":97.4},{"s":"b","t":2013.935,"v":101.2},{"s":"b","t":2013.961,"v":101.2},{"s":"b","t":2013.987,"v":103.2}
]
},
"resolve": {"scale": {"color": "independent", "strokeDash": "independent"}, "legend": {"color": "independent", "strokeDash": "independent"}},
"spacing": 74,
"vconcat": [
{
  "width": 646, "height": 330,
  "data": {"name": "p1"},
  "layer": [
    {"transform": [{"filter": "datum.s == 'a'"}],
     "mark": {"type": "line", "strokeWidth": 4},
     "encoding": {
       "x": {"field": "t", "type": "quantitative", "scale": {"domain": [2009, 2014], "nice": false, "zero": false}, "axis": {"orient": "bottom", "title": null, "values": [2009, 2010, 2011, 2012, 2013, 2014], "labelExpr": "datum.value == 2009 ? 'Jan.09' : format(datum.value - 2000, 'd')", "domainColor": "#600000", "tickColor": "#600000", "labelColor": "#330000"}},
       "y": {"field": "v", "type": "quantitative", "scale": {"domain": [-15, 15], "nice": false, "zero": false}, "axis": {"orient": "left", "title": "Cumulative of IC1 (× (−1))", "values": [-15, -10, -5, 0, 5, 10, 15], "format": "d", "titleColor": "#ff0000", "labelColor": "#ff0000", "domainColor": "#ff0000", "tickColor": "#ff0000"}},
       "color": {"field": "s", "type": "nominal", "scale": {"domain": ["a", "b"], "range": ["#ff0000", "#008000"]}, "legend": {"orient": "top-right", "offset": 11, "symbolType": "M-3.6,0H3.6", "labelExpr": "datum.label == 'a' ? 'Cumulative of IC1 (× (−1))' : 'Stock index of peripheral countries'"}},
       "strokeDash": {"field": "s", "type": "nominal", "scale": {"domain": ["a", "b"], "range": [[1, 0], [13, 15]]}, "legend": {"orient": "top-right", "offset": 11, "symbolType": "M-3.6,0H3.6", "labelExpr": "datum.label == 'a' ? 'Cumulative of IC1 (× (−1))' : 'Stock index of peripheral countries'"}}
     }},
    {"transform": [{"filter": "datum.s == 'b'"}],
     "mark": {"type": "line", "strokeWidth": 4},
     "encoding": {
       "x": {"field": "t", "type": "quantitative", "scale": {"domain": [2009, 2014], "nice": false, "zero": false}, "axis": {"orient": "top", "title": null, "labels": false, "values": [2010, 2011, 2012, 2013], "domainColor": "#ff0000", "tickColor": "#ff0000"}},
       "y": {"field": "v", "type": "quantitative", "scale": {"type": "log", "domain": [60, 150], "nice": false, "zero": false}, "axis": {"orient": "right", "title": "Stock index of peripheral countries", "titleAngle": -90, "titleBaseline": "top", "titlePadding": 9, "values": [60, 80, 100, 120, 140], "format": "d", "titleColor": "#008000", "labelColor": "#008000", "domainColor": "#008000", "tickColor": "#008000"}},
       "color": {"field": "s", "type": "nominal", "scale": {"domain": ["a", "b"], "range": ["#ff0000", "#008000"]}},
       "strokeDash": {"field": "s", "type": "nominal", "scale": {"domain": ["a", "b"], "range": [[1, 0], [13, 15]]}}
     }}
  ],
  "resolve": {"scale": {"y": "independent"}, "axis": {"x": "independent", "y": "independent"}}
},
{
  "spacing": 46,
  "resolve": {"scale": {"color": "independent", "strokeDash": "independent"}, "legend": {"color": "independent", "strokeDash": "independent"}},
  "vconcat": [
  {
    "width": 646, "height": 352,
    "data": {"name": "p2"},
    "layer": [
      {"transform": [{"filter": "datum.s == 'a'"}],
       "mark": {"type": "line", "strokeWidth": 4},
       "encoding": {
         "x": {"field": "t", "type": "quantitative", "scale": {"domain": [2009, 2014], "nice": false, "zero": false}, "axis": {"orient": "bottom", "title": null, "values": [2009, 2010, 2011, 2012, 2013, 2014], "labelExpr": "datum.value == 2009 ? 'Jan.09' : format(datum.value - 2000, 'd')", "domainColor": "#600000", "tickColor": "#600000", "labelColor": "#330000"}},
         "y": {"field": "v", "type": "quantitative", "scale": {"domain": [-10, 24], "nice": false, "zero": false}, "axis": {"orient": "left", "title": "Cumulative of IC2", "values": [-10, 0, 10, 20], "format": "d", "titleColor": "#ff0000", "labelColor": "#ff0000", "domainColor": "#ff0000", "tickColor": "#ff0000"}},
         "color": {"field": "s", "type": "nominal", "scale": {"domain": ["a", "b"], "range": ["#ff0000", "#008000"]}, "legend": {"orient": "top-right", "offset": 15, "symbolType": "M-3.6,0H3.6", "labelExpr": "datum.label == 'a' ? 'Cumulative of IC2' : 'Global sovereign CDS index'"}},
         "strokeDash": {"field": "s", "type": "nominal", "scale": {"domain": ["a", "b"], "range": [[1, 0], [13, 15]]}, "legend": {"orient": "top-right", "offset": 15, "symbolType": "M-3.6,0H3.6", "labelExpr": "datum.label == 'a' ? 'Cumulative of IC2' : 'Global sovereign CDS index'"}}
       }},
      {"transform": [{"filter": "datum.s == 'b'"}],
       "mark": {"type": "line", "strokeWidth": 4},
       "encoding": {
         "x": {"field": "t", "type": "quantitative", "scale": {"domain": [2009, 2014], "nice": false, "zero": false}, "axis": {"orient": "top", "title": null, "labels": false, "values": [2010, 2011, 2012, 2013], "domainColor": "#ff0000", "tickColor": "#ff0000"}},
         "y": {"field": "v", "type": "quantitative", "scale": {"domain": [0, 170], "nice": false, "zero": false}, "axis": {"orient": "right", "title": "Global sovereign CDS index", "titleAngle": -90, "titleBaseline": "top", "titlePadding": 9, "values": [0, 50, 100, 150], "format": "d", "titleColor": "#008000", "labelColor": "#008000", "domainColor": "#008000", "tickColor": "#008000"}},
         "color": {"field": "s", "type": "nominal", "scale": {"domain": ["a", "b"], "range": ["#ff0000", "#008000"]}},
         "strokeDash": {"field": "s", "type": "nominal", "scale": {"domain": ["a", "b"], "range": [[1, 0], [13, 15]]}}
       }}
    ],
    "resolve": {"scale": {"y": "independent"}, "axis": {"x": "independent", "y": "independent"}}
  },
  {
    "width": 646, "height": 350,
    "data": {"name": "p3"},
    "layer": [
      {"transform": [{"filter": "datum.s == 'a'"}],
       "mark": {"type": "line", "strokeWidth": 4},
       "encoding": {
         "x": {"field": "t", "type": "quantitative", "scale": {"domain": [2009, 2014], "nice": false, "zero": false}, "axis": {"orient": "bottom", "title": null, "values": [2009, 2010, 2011, 2012, 2013, 2014], "labelExpr": "datum.value == 2009 ? 'Jan.09' : format(datum.value - 2000, 'd')", "domainColor": "#600000", "tickColor": "#600000", "labelColor": "#330000"}},
         "y": {"field": "v", "type": "quantitative", "scale": {"domain": [-5, 15], "nice": false, "zero": false}, "axis": {"orient": "left", "title": "Cumulative of IC3", "values": [-5, 0, 5, 10, 15], "format": "d", "titleColor": "#ff0000", "labelColor": "#ff0000", "domainColor": "#ff0000", "tickColor": "#ff0000"}},
         "color": {"field": "s", "type": "nominal", "scale": {"domain": ["a", "b"], "range": ["#ff0000", "#008000"]}, "legend": {"orient": "bottom-right", "offset": 9, "symbolType": "M-3.6,0H3.6", "labelExpr": "datum.label == 'a' ? 'Cumulative of IC3' : 'Eurozone financial CDS index'"}},
         "strokeDash": {"field": "s", "type": "nominal", "scale": {"domain": ["a", "b"], "range": [[1, 0], [13, 15]]}, "legend": {"orient": "bottom-right", "offset": 9, "symbolType": "M-3.6,0H3.6", "labelExpr": "datum.label == 'a' ? 'Cumulative of IC3' : 'Eurozone financial CDS index'"}}
       }},
      {"transform": [{"filter": "datum.s == 'b'"}],
       "mark": {"type": "line", "strokeWidth": 4},
       "encoding": {
         "x": {"field": "t", "type": "quantitative", "scale": {"domain": [2009, 2014], "nice": false, "zero": false}, "axis": {"orient": "top", "title": null, "labels": false, "values": [2010, 2011, 2012, 2013], "domainColor": "#ff0000", "tickColor": "#ff0000"}},
         "y": {"field": "v", "type": "quantitative", "scale": {"domain": [0, 400], "nice": false, "zero": false}, "axis": {"orient": "right", "title": "Eurozone financial CDS index", "titleAngle": -90, "titleBaseline": "top", "titlePadding": 9, "values": [0, 100, 200, 300, 400], "format": "d", "titleColor": "#008000", "labelColor": "#008000", "domainColor": "#008000", "tickColor": "#008000"}},
         "color": {"field": "s", "type": "nominal", "scale": {"domain": ["a", "b"], "range": ["#ff0000", "#008000"]}},
         "strokeDash": {"field": "s", "type": "nominal", "scale": {"domain": ["a", "b"], "range": [[1, 0], [13, 15]]}}
       }}
    ],
    "resolve": {"scale": {"y": "independent"}, "axis": {"x": "independent", "y": "independent"}}
  }
  ]
}
]
}
